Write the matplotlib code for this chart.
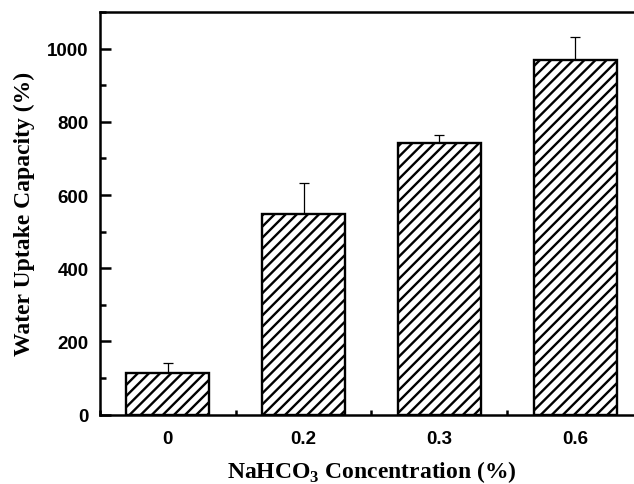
import matplotlib
matplotlib.use('Agg')
import matplotlib.pyplot as plt
from matplotlib.ticker import MultipleLocator

# data
concentrations = ['0', '0.2', '0.3', '0.6']
uptake = [115, 547, 741, 968]
uptake_err = [25, 87, 23, 63]

plt.rcParams['hatch.linewidth'] = 1.7
plt.rcParams['mathtext.fontset'] = 'custom'
plt.rcParams['mathtext.rm'] = 'Liberation Serif:bold'
plt.rcParams['mathtext.bf'] = 'Liberation Serif:bold'

fig = plt.figure(figsize=(6.34, 4.85), dpi=100)
# the right side of the original is cut off, so the axes run past the figure edge
ax = fig.add_axes([0.1577, 0.1429, 0.8565, 0.8303])

x = range(len(concentrations))
ax.bar(x, uptake, width=0.61, color='white', edgecolor='black',
       linewidth=1.7, hatch='///', zorder=2)
ax.errorbar(x, uptake, yerr=[[0] * len(uptake), uptake_err], fmt='none',
            ecolor='black', elinewidth=0.9, capsize=3.3, capthick=0.9, zorder=1)

ax.set_xlim(-0.5, 3.5)
ax.set_ylim(0, 1100)
ax.set_xticks(list(x))
ax.set_xticklabels(concentrations)
ax.xaxis.set_minor_locator(MultipleLocator(0.5))
ax.yaxis.set_major_locator(MultipleLocator(200))
ax.yaxis.set_minor_locator(MultipleLocator(100))

for s in ax.spines.values():
    s.set_linewidth(1.8)

ax.tick_params(axis='y', which='major', direction='in', length=8, width=1.8, pad=8)
ax.tick_params(axis='y', which='minor', direction='in', length=4.3, width=1.8)
ax.tick_params(axis='x', which='major', direction='in', length=6.5, width=1.8, pad=11)
ax.tick_params(axis='x', which='minor', direction='in', length=3.5, width=1.8)
ax.tick_params(right=False, top=False, which='both')

for lab in ax.get_xticklabels() + ax.get_yticklabels():
    lab.set_fontfamily('Liberation Sans')
    lab.set_fontweight('bold')
    lab.set_fontsize(13.5)

ax.set_ylabel('Water Uptake Capacity (%)', fontfamily='Liberation Serif',
              fontweight='bold', fontsize=17, labelpad=9)
ax.set_xlabel('NaHCO$_3$ Concentration (%)', fontfamily='Liberation Serif',
              fontweight='bold', fontsize=17, labelpad=8)

fig.savefig('out.png', dpi=100)
